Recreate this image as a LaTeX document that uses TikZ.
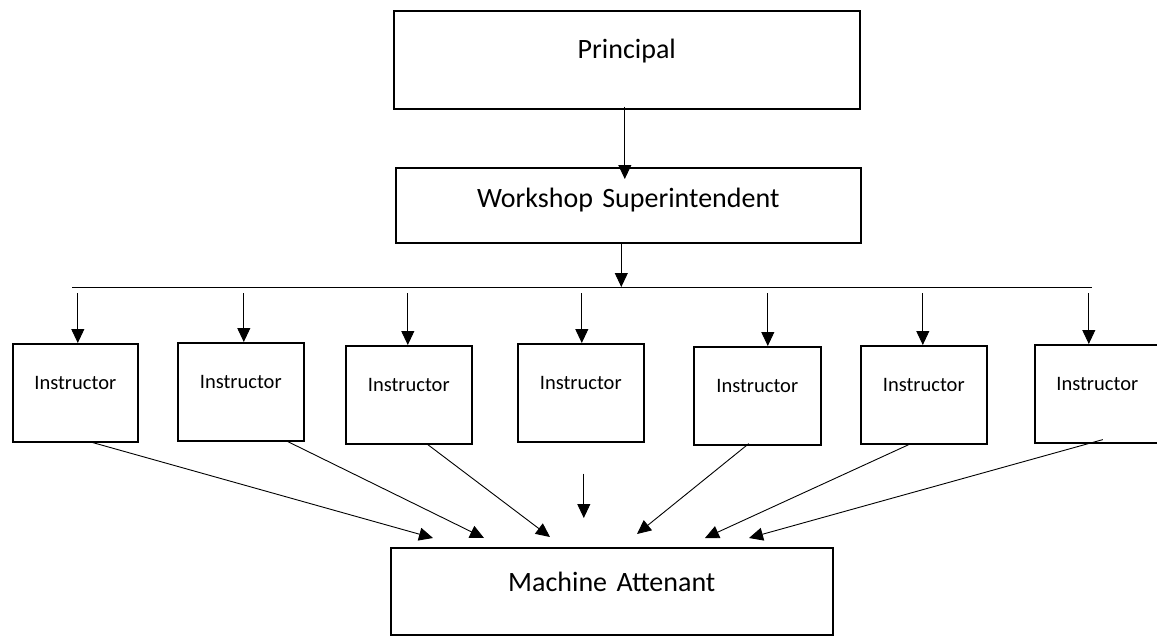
\documentclass[tikz,border=0pt]{standalone}
\usepackage{fontspec}
\setmainfont{Carlito}[WordSpace=0.85]
\usetikzlibrary{calc}
\usetikzlibrary{arrows.meta}
\tikzset{>={Triangle[length=14pt,width=13pt]}}
\tikzset{
  box/.style={draw, line width=1.6pt, inner sep=0pt, align=center, anchor=north west},
  arr/.style={->, line width=0.9pt},
  bigtext/.style={font=\fontsize{28}{32}\selectfont},
  smalltext/.style={font=\fontsize{20.5}{24}\selectfont}
}
\begin{document}
\begin{tikzpicture}[x=1pt,y=-1pt]
\clip (0,0) rectangle (1157,635);

% ---------------- Top boxes ----------------
\node[box, bigtext, text width=466pt, text height=48pt, text depth=50pt] (pr) at (393,10) {Principal};
\node[box, bigtext, text width=465pt, text height=40pt, text depth=35pt] (ws) at (395,167) {Workshop Superintendent};

\draw[arr] ($(pr.south)+(-2,-3)$) -- ($(ws.north)+(-3.5,12)$);

% ---------------- Distribution bar ----------------
\coordinate (barL) at (72,287);
\coordinate (barR) at (1092,287);
\draw[line width=0.9pt] (barL) -- (barR);
\draw[arr] ($(ws.south)+(-7,0)$) -- ($(ws.south |- barL)+(-7,0)$);

% ---------------- Instructors ----------------
\foreach \n/\x/\y/\w in {
  1/12/343/125, 2/177/342/126, 3/345/345/126, 4/517/343/126,
  5/693/346/127, 6/860/345/126, 7/1034/344/125
}{
  \node[box, smalltext, text width=\w pt, text height=46pt, text depth=52pt] (i\n) at (\x,\y) {Instructor};
}

% Arrows from bar
\foreach \n/\dx in {1/2.5, 2/3, 3/-1, 4/1, 5/10.5, 6/-1, 7/-8.5}{
  \draw[arr] ($(i\n.north |- barL)+(\dx,6)$) -- ($(i\n.north)+(\dx,0)$);
}

% ---------------- Machine attenant ----------------
\node[box, bigtext, text width=442pt, text height=44pt, text depth=43pt] (ma) at (390,547) {Machine Attenant};

% Arrows to bottom box
\foreach \n/\dx/\dy/\tx/\ty in {
  1/17.5/0/43/-9, 2/47/0/94/-9, 3/19/0/160/-10,
  5/-8.5/-2/247/-13, 6/-15/0/315/-9, 7/5.5/-4/359/-9
}{
  \draw[arr] ($(i\n.south)+(\dx,\dy)$) -- ($(ma.north west)+(\tx,\ty)$);
}
\draw[arr] ($(i4.south)+(3,31)$) -- ($(i4.south |- ma.north)+(3,-29)$);

\end{tikzpicture}
\end{document}
